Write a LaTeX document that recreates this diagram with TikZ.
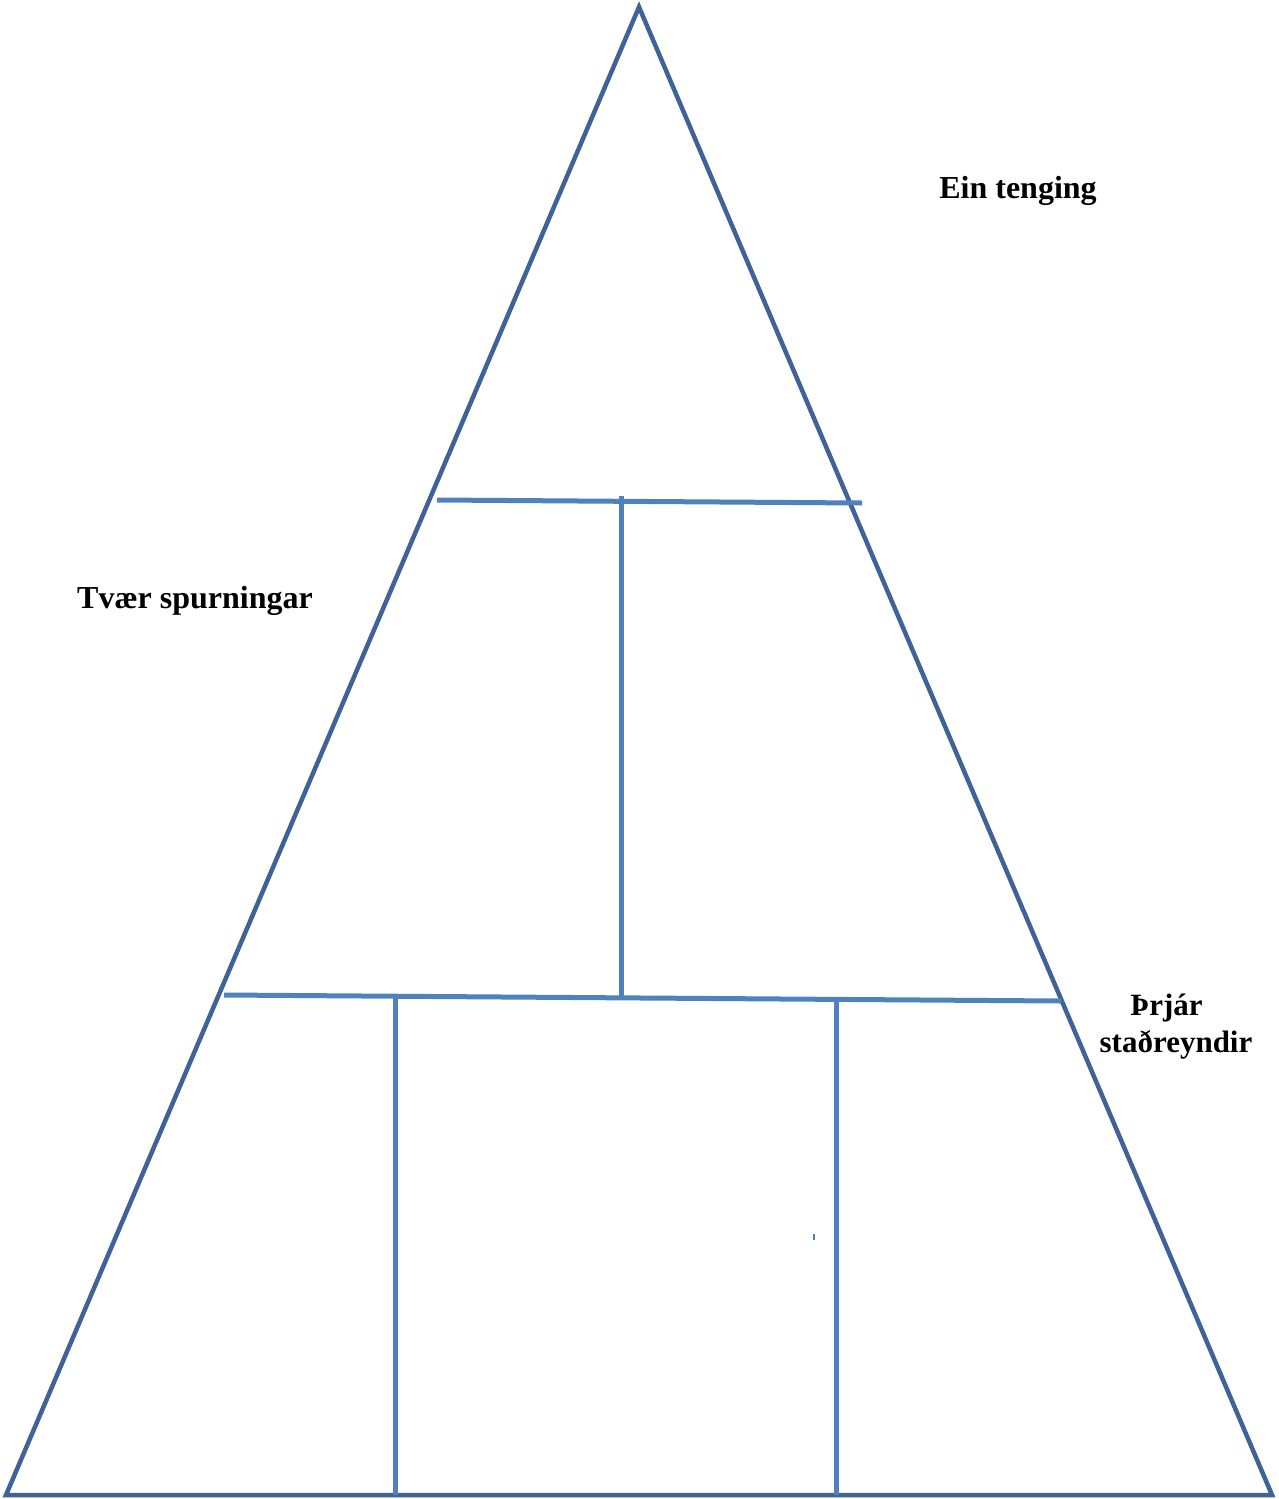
\documentclass[tikz,border=0pt]{standalone}
\usepackage{fontspec}
\setmainfont{Liberation Serif}
\definecolor{outl}{HTML}{3F6396}
\definecolor{inl}{HTML}{4F81BD}
\begin{document}
\begin{tikzpicture}[x=1pt,y=-1pt,
  outline/.style={draw=outl,line width=4.5pt,line join=miter},
  inner/.style={draw=inl,line width=5pt},
  lbl/.style={font=\bfseries\fontsize{32}{37}\selectfont,text=black,inner sep=0pt,align=center}]
\useasboundingbox (0,0) rectangle (1278,1499);
\coordinate (apex) at (639,7);
\coordinate (bl) at (6,1495);
\coordinate (br) at (1272,1495);
\draw[outline] (apex) -- (br) -- (bl) -- cycle;
% top horizontal
\coordinate (t1) at (437,500);
\coordinate (t2) at (862,503);
\draw[inner] (t1) -- (t2);
% bottom horizontal
\coordinate (b1) at (224,995);
\coordinate (b2) at (1061,1001);
\draw[inner] (b1) -- (b2);
% verticals
\coordinate (v1a) at (621,496);
\coordinate (v1b) at (621,1000);
\draw[inner] (v1a) -- (v1b);
\coordinate (v2a) at (395,997);
\coordinate (v2b) at (395,1495);
\draw[inner] (v2a) -- (v2b);
\coordinate (v3a) at (836,1001);
\coordinate (v3b) at (836,1495);
\draw[inner] (v3a) -- (v3b);
\coordinate (k1) at (814,1234);
\coordinate (k2) at (814,1240);
\draw[inl,line width=1.5pt] (k1) -- (k2);
\node[lbl] (ein) at (1018,191) {Ein tenging};
\node[lbl] (tvaer) at (195,601) {Tvær spurningar};
\node[lbl,font=\bfseries\fontsize{31}{37}\selectfont] (thrjar) at (1176,1027) {Þrjár\hspace*{19pt}\\staðreyndir};
\end{tikzpicture}
\end{document}
